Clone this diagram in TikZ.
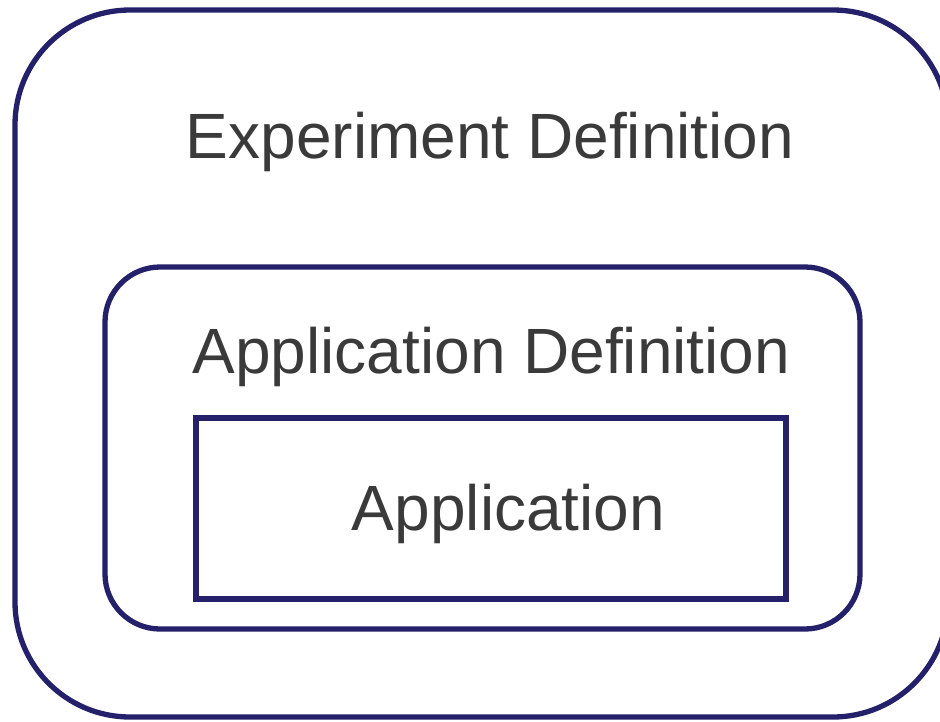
\documentclass[tikz,border=0pt]{standalone}
\usepackage{fontspec}
\setmainfont{Liberation Sans}
\definecolor{frame}{RGB}{36,33,106}
\definecolor{ink}{RGB}{58,58,58}
\begin{document}
\begin{tikzpicture}[x=1pt,y=-1pt,
  box/.style={draw=frame, line width=5.3pt, inner sep=0pt, outer sep=0pt},
  label/.style={text=ink, inner sep=0pt, anchor=base,
    font=\fontsize{64}{72}\selectfont}]
  \useasboundingbox (0,0) rectangle (940,721);
  % nested containers
  \node[box, rounded corners=115pt, minimum width=933pt, minimum height=707pt]
    (experiment) at (481.5,363.5) {};
  \node[box, rounded corners=55pt, minimum width=755pt, minimum height=362pt]
    (appdef) at (482.5,448) {};
  \node[box, minimum width=590pt, minimum height=181pt]
    (app) at (491,508.5) {};
  % captions
  \node[label] (experimentlabel) at (490,158) {Experiment Definition};
  \node[label] (appdeflabel) at (491.5,373) {Application Definition};
  \node[label] (applabel) at (508.5,530) {Application};
\end{tikzpicture}
\end{document}
